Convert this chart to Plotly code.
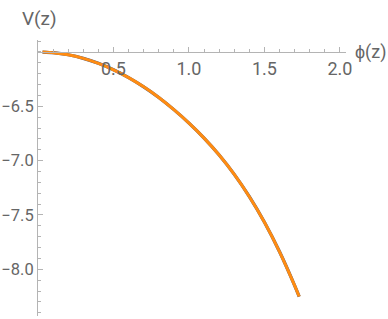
import plotly.graph_objects as go

# data
phi = [0.03, 0.1, 0.2, 0.3, 0.4, 0.5, 0.6, 0.7, 0.8, 0.9, 1.0, 1.1, 1.2, 1.3, 1.4, 1.5, 1.6, 1.7, 1.73]
V = [-6.001, -6.007, -6.026, -6.059, -6.105, -6.164, -6.236, -6.321, -6.419, -6.531, -6.655,
     -6.793, -6.949, -7.127, -7.332, -7.567, -7.839, -8.150, -8.251]

x_ticks = [0.5, 1.0, 1.5, 2.0]
x_ticktext = ["0.5", "1.0", "1.5", "2.0"]
y_ticks = [-8.0, -7.5, -7.0, -6.5]
y_ticktext = ["\u22128.0", "\u22127.5", "\u22127.0", "\u22126.5"]

x_range = [0.0, 2.04]
y_range = [-8.43, -5.89]
x_cross = -6.0  # y value where the horizontal axis sits

FONT = "Roboto, sans-serif"
AXIS_COLOR = "#b4b4b4"
TEXT_COLOR = "#666666"

fig = go.Figure()
fig.add_trace(go.Scatter(x=phi, y=V, mode="lines",
                         line=dict(color="#4a5a80", width=3.2, shape="spline", smoothing=0.6),
                         showlegend=False, hoverinfo="skip"))
fig.add_trace(go.Scatter(x=phi, y=V, mode="lines",
                         line=dict(color="#ff8c12", width=3.0, shape="spline", smoothing=0.6),
                         showlegend=False, hoverinfo="skip"))

pos = (x_cross - y_range[0]) / (y_range[1] - y_range[0])

fig.update_layout(
    width=388, height=319,
    margin=dict(l=38, r=42, t=40, b=3),
    paper_bgcolor="white", plot_bgcolor="white",
    font=dict(family=FONT, color=TEXT_COLOR, size=18),
    xaxis=dict(range=x_range, anchor="free", position=pos, side="bottom", automargin=False,
               showgrid=False, zeroline=False, showline=True, linecolor=AXIS_COLOR, linewidth=1,
               ticks="inside", ticklen=5, tickcolor=AXIS_COLOR, tickwidth=1,
               tickvals=x_ticks, ticktext=x_ticktext,
               tickfont=dict(family=FONT, size=18, color=TEXT_COLOR),
               minor=dict(ticks="inside", dtick=0.1, tick0=0, ticklen=3, tickcolor=AXIS_COLOR, showgrid=False)),
    yaxis=dict(range=y_range, automargin=False, showgrid=False, zeroline=False, showline=True,
               linecolor=AXIS_COLOR, linewidth=1,
               ticks="inside", ticklen=5, tickcolor=AXIS_COLOR, tickwidth=1,
               tickvals=y_ticks, ticktext=y_ticktext, ticklabelstandoff=0,
               tickfont=dict(family=FONT, size=16.5, color=TEXT_COLOR),
               minor=dict(ticks="inside", dtick=0.1, tick0=0, ticklen=3, tickcolor=AXIS_COLOR, showgrid=False)),
    annotations=[
        dict(text="V(z)", xref="paper", yref="paper", x=-0.06, y=1.03, xanchor="left", yanchor="bottom",
             showarrow=False, font=dict(family=FONT, size=19, color=TEXT_COLOR)),
        dict(text="\u03d5(z)", xref="paper", yref="paper", x=1.022, y=pos, xanchor="left", yanchor="middle",
             showarrow=False, font=dict(family=FONT, size=18, color=TEXT_COLOR)),
    ],
)

# remove the default 8px page margin so the figure sits at the window's top-left corner
fig.write_html("out.html", config={"displayModeBar": False},
               post_script="document.body.style.margin='0';document.body.style.overflow='hidden';")
